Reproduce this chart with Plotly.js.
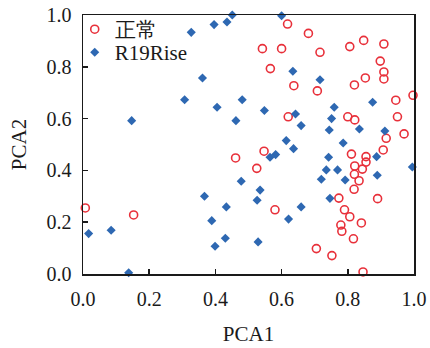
<!DOCTYPE html>
<html>
<head>
<meta charset="utf-8">
<script src="https://cdn.plot.ly/plotly-3.0.1.min.js"></script>
<style>html,body{margin:0;padding:0;background:#fff;}#chart{width:430px;height:348px;}</style>
</head>
<body>
<div id="chart"></div>
<script>
var normalName = "正常";
var riseName = "R19Rise";

var normalX = [0.618,0.681,0.542,0.600,0.716,0.806,0.848,0.909,0.898,0.566,0.909,0.909,0.853,0.637,0.820,0.708,0.997,0.945,0.620,0.800,0.821,0.950,0.970,0.916,
  0.547,0.525,0.907,0.811,0.855,0.855,0.821,0.844,0.820,0.834,0.819,0.890,0.773,0.580,0.790,0.806,0.841,0.779,0.782,0.817,0.705,0.752,0.846,
  0.461,0.007,0.153];
var normalY = [0.965,0.929,0.870,0.870,0.856,0.878,0.902,0.888,0.822,0.793,0.780,0.753,0.757,0.727,0.730,0.707,0.690,0.671,0.607,0.607,0.595,0.607,0.541,0.524,
  0.474,0.408,0.479,0.463,0.453,0.432,0.417,0.405,0.385,0.360,0.327,0.291,0.293,0.248,0.248,0.221,0.197,0.189,0.165,0.136,0.098,0.071,0.008,
  0.448,0.255,0.228];

var riseX = [0.451,0.435,0.396,0.327,0.361,0.307,0.481,0.405,0.147,0.462,
  0.600,0.634,0.716,0.875,0.548,0.642,0.759,0.751,0.659,0.744,0.835,0.912,0.614,0.786,
  0.636,0.582,0.565,0.742,0.887,0.735,0.769,0.720,0.792,0.889,0.995,0.535,0.526,0.746,0.659,0.621,0.529,
  0.478,0.367,0.433,0.389,0.430,0.399,0.017,0.085,0.138];
var riseY = [1.000,0.973,0.963,0.933,0.757,0.673,0.673,0.644,0.592,0.592,
  0.997,0.783,0.750,0.663,0.631,0.618,0.644,0.600,0.573,0.556,0.560,0.552,0.515,0.506,
  0.484,0.461,0.451,0.451,0.453,0.402,0.402,0.366,0.363,0.381,0.413,0.324,0.285,0.292,0.259,0.212,0.124,
  0.358,0.300,0.259,0.206,0.138,0.107,0.156,0.169,0.005];

var tickVals = [0, 0.2, 0.4, 0.6, 0.8, 1.0];
var tickText = ["0.0", "0.2", "0.4", "0.6", "0.8", "1.0"];

var serif = "Liberation Serif, Times New Roman, serif";

var traces = [
  {
    x: normalX, y: normalY, name: normalName, type: "scatter", mode: "markers",
    marker: {symbol: "circle-open", size: 8, color: "#e8303a", line: {width: 1.6, color: "#e8303a"}},
    cliponaxis: false, legend: "legend"
  },
  {
    x: riseX, y: riseY, name: riseName, type: "scatter", mode: "markers",
    marker: {symbol: "diamond", size: 7, color: "#2e68b2"},
    cliponaxis: false, legend: "legend2"
  }
];

var axisCommon = {
  range: [0, 1],
  tickvals: tickVals,
  ticktext: tickText,
  ticks: "inside",
  ticklen: 5,
  tickwidth: 1.5,
  tickcolor: "#1a1a1a",
  showline: true,
  linecolor: "#1a1a1a",
  linewidth: 1.5,
  mirror: true,
  showgrid: false,
  zeroline: false,
  automargin: false,
  tickfont: {family: serif, size: 20, color: "#1a1a1a"}
};

var legendCommon = {
  xanchor: "left", yanchor: "top",
  bgcolor: "rgba(0,0,0,0)",
  font: {family: serif, size: 21, color: "#1a1a1a"},
  itemwidth: 30
};

var layout = {
  width: 430, height: 348,
  margin: {l: 83, r: 16, t: 15, b: 74, autoexpand: false},
  paper_bgcolor: "#ffffff",
  plot_bgcolor: "#ffffff",
  showlegend: true,
  legend: Object.assign({}, legendCommon, {x: -0.025, y: 1.023}),
  legend2: Object.assign({}, legendCommon, {x: -0.025, y: 0.934}),
  xaxis: Object.assign({}, axisCommon, {
    ticklabelstandoff: 6,
    title: {text: "PCA1", font: {family: serif, size: 21, color: "#1a1a1a"}, standoff: 18}
  }),
  yaxis: Object.assign({}, axisCommon, {
    ticklabelstandoff: 6,
    title: {text: "PCA2", font: {family: serif, size: 21, color: "#1a1a1a"}, standoff: 14}
  })
};

Plotly.newPlot("chart", traces, layout, {displayModeBar: false, staticPlot: true});
</script>
</body>
</html>
